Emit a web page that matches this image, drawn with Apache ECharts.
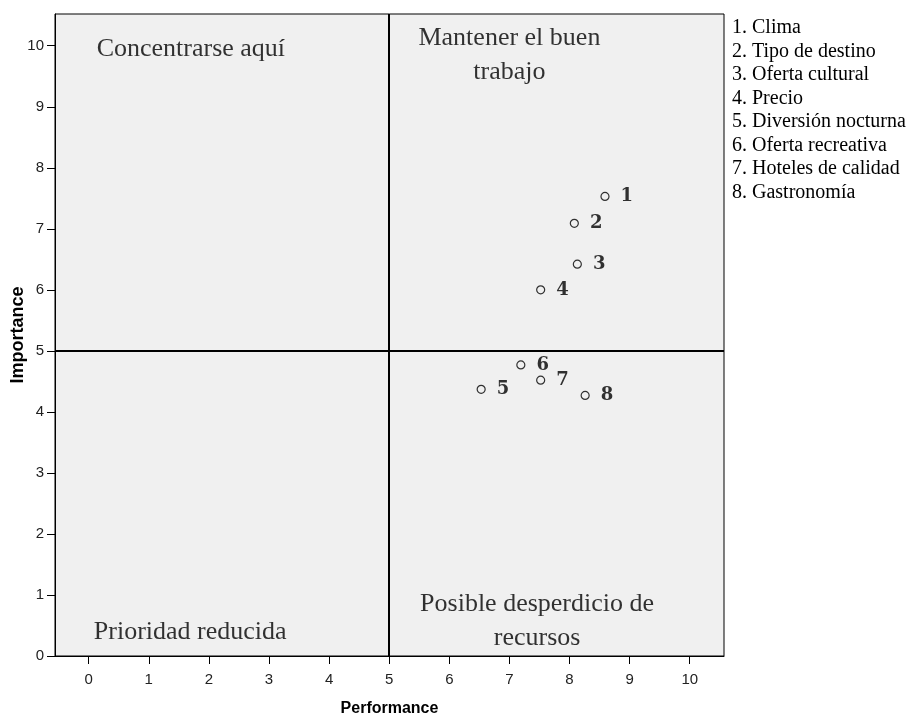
<!DOCTYPE html>
<html>
<head>
    <meta charset="utf-8">
    <title>IPA</title>
    <script src="https://cdn.jsdelivr.net/npm/echarts@6/dist/echarts.min.js"></script>
</head>
<body style="margin:0;background:#fff;">
    <div id="c" style="width:920px;height:718px;"></div>
    <script>
    // puntos: performance (x), importance (y), numero
    var ids = [1, 2, 3, 4, 5, 6, 7, 8];
    var performance = [8.59, 8.08, 8.13, 7.52, 6.53, 7.19, 7.52, 8.26];
    var importance = [7.53, 7.09, 6.42, 6.00, 4.37, 4.77, 4.52, 4.27];
    var attributes = ['Clima', 'Tipo de destino', 'Oferta cultural', 'Precio',
        'Diversión nocturna', 'Oferta recreativa', 'Hoteles de calidad', 'Gastronomía'];
    var ticks = [0, 1, 2, 3, 4, 5, 6, 7, 8, 9, 10];
    // textos de cuadrantes (posicion en unidades de los ejes)
    var quadrantText = [
        {text: 'Concentrarse aquí', x: 1.70, y: 9.95},
        {text: 'Mantener el buen\ntrabajo', x: 7.0, y: 9.85},
        {text: 'Prioridad reducida', x: 1.69, y: 0.39},
        {text: 'Posible desperdicio de\nrecursos', x: 7.46, y: 0.57}
    ];

    var points = ids.map(function (id, i) { return [performance[i], importance[i], id]; });
    var legendText = ids.map(function (id, i) { return id + '. ' + attributes[i]; }).join('\n');
    var tickFont = "'Liberation Sans Narrow', 'Arial Narrow', 'Liberation Sans', sans-serif";

    var myChart = echarts.init(document.getElementById('c'));
    var option = {
        animation: false,
        grid: {
            left: 55, right: 196, top: 14, bottom: 62,
            outerBoundsMode: 'none',
            containLabel: false,
            show: true,
            backgroundColor: '#f0f0f0',
            borderColor: '#000',
            borderWidth: 1
        },
        xAxis: {
            type: 'value',
            min: -0.56,
            max: 10.57,
            name: 'Performance',
            nameLocation: 'middle',
            nameGap: 45,
            nameMoveOverlap: false,
            nameTextStyle: {fontFamily: 'Liberation Sans', fontWeight: 'bold', fontSize: 16, color: '#000'},
            axisLine: {onZero: false, lineStyle: {color: '#000', width: 1}},
            axisTick: {show: true, length: 8, customValues: ticks, lineStyle: {color: '#000'}},
            axisLabel: {customValues: ticks, margin: 16, fontFamily: tickFont, fontSize: 15, color: '#222'},
            splitLine: {show: false}
        },
        yAxis: {
            type: 'value',
            min: 0,
            max: 10.52,
            name: 'Importance',
            nameLocation: 'middle',
            nameGap: 28,
            nameMoveOverlap: false,
            nameRotate: 90,
            nameTextStyle: {fontFamily: 'Liberation Sans', fontWeight: 'bold', fontSize: 18, color: '#000'},
            axisLine: {show: true, onZero: false, lineStyle: {color: '#000', width: 1}},
            axisTick: {show: true, length: 8, customValues: ticks, lineStyle: {color: '#000'}},
            axisLabel: {customValues: ticks, margin: 11, fontFamily: tickFont, fontSize: 15, color: '#222'},
            splitLine: {show: false}
        },
        series: [{
            type: 'scatter',
            data: points,
            symbol: 'circle',
            symbolSize: 8,
            itemStyle: {color: '#f0f0f0', borderColor: '#000', borderWidth: 1.2},
            label: {
                show: true,
                position: 'right',
                distance: 11,
                formatter: function (p) { return p.value[2]; },
                fontFamily: 'DejaVu Serif',
                fontWeight: 'bold',
                fontSize: 18,
                color: '#000'
            },
            markLine: {
                silent: true,
                symbol: 'none',
                label: {show: false},
                lineStyle: {color: '#000', width: 2, type: 'solid'},
                data: [{xAxis: 5}, {yAxis: 5}]
            },
            z: 5
        }, {
            type: 'scatter',
            silent: true,
            symbolSize: 0,
            data: quadrantText.map(function (q) { return {value: [q.x, q.y], name: q.text}; }),
            label: {
                show: true,
                position: 'inside',
                formatter: function (p) { return p.name; },
                fontFamily: 'Liberation Serif',
                fontSize: 26,
                lineHeight: 34,
                align: 'center',
                color: '#000',
                textBorderWidth: 0
            }
        }],
        graphic: [{
            type: 'text',
            left: 732,
            top: 16,
            style: {
                text: legendText,
                font: '20px "Liberation Serif"',
                lineHeight: 23.5,
                fill: '#000'
            }
        }]
    };
    myChart.setOption(option);
    </script>
</body>
</html>
